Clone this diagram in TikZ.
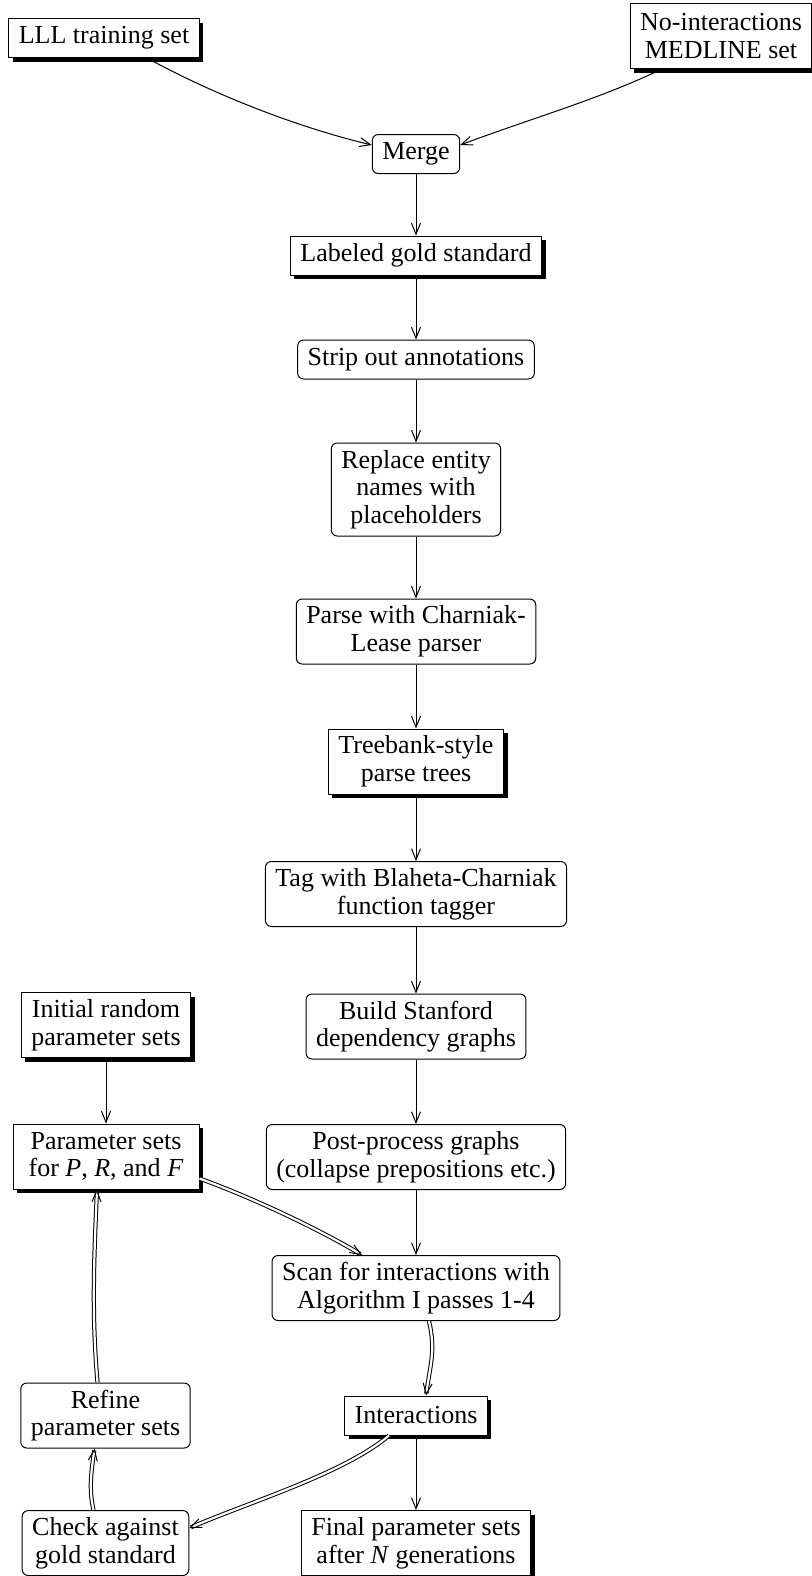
\documentclass[tikz,border=0pt]{standalone}
\usepackage{fontspec}
\setmainfont{Liberation Serif}
\usetikzlibrary{arrows.meta,shadows,calc}
\begin{document}
\begin{tikzpicture}[x=0.5pt,y=-0.5pt,
  base/.style={draw, fill=white, line width=0.5pt, align=center,
    inner xsep=5pt, inner ysep=0pt, font=\fontsize{13}{13.8}\selectfont},
  proc/.style={base, rounded corners=3pt},
  data/.style={base, drop shadow={shadow xshift=2pt, shadow yshift=-2.2pt,
    fill=black, opacity=1}},
  one/.style={minimum height=19.5pt},
  two/.style={minimum height=32.5pt},
  three/.style={minimum height=46.5pt},
  flow/.style={line width=0.5pt, -{Straight Barb[length=5.5pt,width=4.5pt]}},
  loop/.style={flow, double, double distance=1.1pt},
]
\useasboundingbox (0,0) rectangle (811,1576);

% main pipeline
\node[data,one]  (lll)    at (104,38)    {LLL training set};
\node[data,two]  (med)    at (721,36)    {No-interactions\\MEDLINE set};
\node[proc,one]  (merge)  at (416,154)   {Merge};
\node[data,one]  (gold)   at (416,255.5) {Labeled gold standard};
\node[proc,one]  (strip)  at (416,359.5) {Strip out annotations};
\node[proc,three](repl)   at (416,489.5) {Replace entity\\names with\\placeholders};
\node[proc,two]  (parse)  at (416,631.5) {Parse with Charniak-\\Lease parser};
\node[data,two]  (tree)   at (416,761.5) {Treebank-style\\parse trees};
\node[proc,two]  (tag)    at (416,894)   {Tag with Blaheta-Charniak\\function tagger};
\node[proc,two]  (build)  at (416,1026.5){Build Stanford\\dependency graphs};
\node[proc,two]  (post)   at (416,1157)  {Post-process graphs\\(collapse prepositions etc.)};
\node[proc,two]  (scan)   at (416,1288)  {Scan for interactions with\\Algorithm I passes 1-4};
\node[data,one]  (inter)  at (416,1415.5){Interactions};
\node[data,two]  (final)  at (416,1543)  {Final parameter sets\\after \textit{N} generations};

% parameter search loop
\node[data,two]  (init)   at (106,1025)  {Initial random\\parameter sets};
\node[data,two, minimum width=93pt]
                 (params) at (106,1156.5){Parameter sets\\for \textit{P}, \textit{R}, and \textit{F}};
\node[proc,two]  (refine) at (105.5,1415.5) {Refine\\parameter sets};
\node[proc,two]  (check)  at (105.5,1543)   {Check against\\gold standard};

% single connectors
\draw[flow] ($(lll.south)+(43,0)$) .. controls +(60,33) and +(-80,-19) .. ($(merge.west)+(0,-9)$);
\draw[flow] ($(med.south)+(-59,0)$) .. controls +(-65,31) and +(75,-28) .. ($(merge.east)+(0,-9)$);
\draw[flow] (merge) -- (gold);
\draw[flow] (gold) -- (strip);
\draw[flow] (strip) -- (repl);
\draw[flow] (repl) -- (parse);
\draw[flow] (parse) -- (tree);
\draw[flow] (tree) -- (tag);
\draw[flow] (tag) -- (build);
\draw[flow] (build) -- (post);
\draw[flow] (post) -- (scan);
\draw[flow] (inter) -- (final);
\draw[flow] (init) -- (params);

% double connectors of the loop
\draw[loop] ($(params.east)+(0,22)$) .. controls +(50,18) and +(-45,-27) .. ($(scan.north)+(-54,0)$);
\draw[loop] ($(scan.south)+(13,0)$) .. controls +(7,30) and +(4,-30) .. ($(inter.north)+(10,0)$);
\draw[loop] ($(inter.south)+(-27,0)$) .. controls +(-45,38) and +(60,-26) .. ($(check.east)+(0,-15)$);
\draw[loop] ($(check.north)+(-12,0)$) .. controls +(-5,-22) and +(-3,22) .. ($(refine.south)+(-11,0)$);
\draw[loop] ($(refine.north)+(-8,0)$) .. controls +(-6,-70) and +(-3,70) .. ($(params.south)+(-9,0)$);
\end{tikzpicture}
\end{document}
